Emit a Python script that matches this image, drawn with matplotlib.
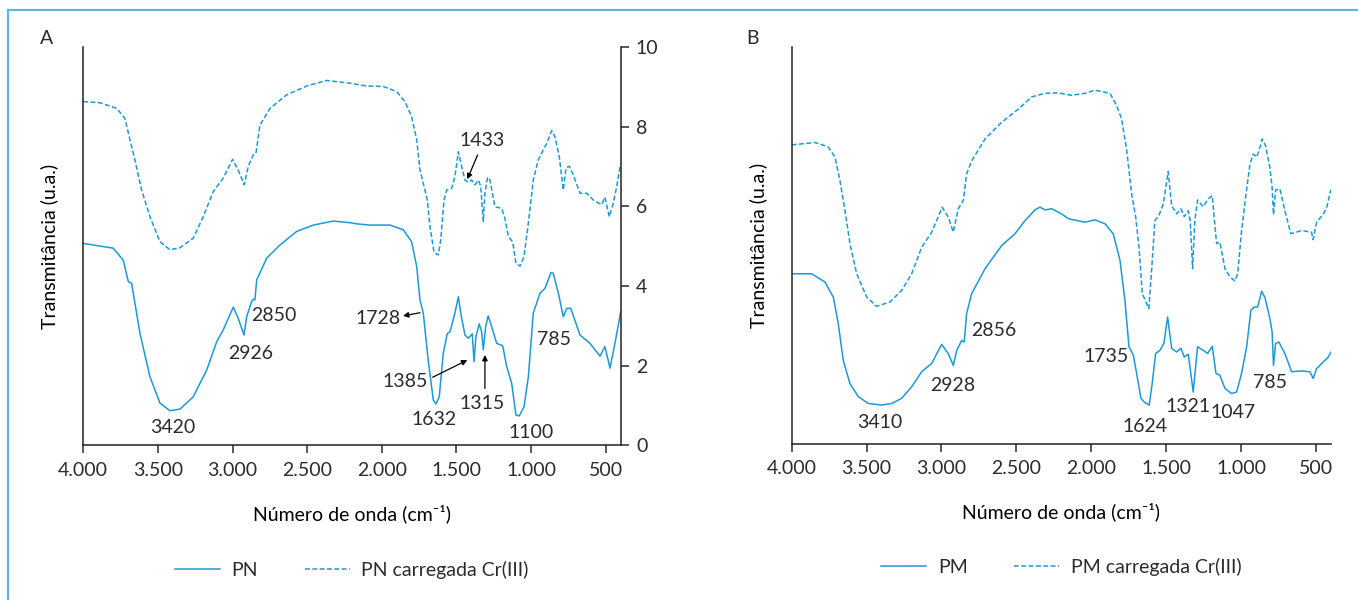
import numpy as np
import matplotlib
matplotlib.use('Agg')
import matplotlib.pyplot as plt
from matplotlib.ticker import FuncFormatter, FixedLocator

plt.rcParams['font.family'] = ['Lato', 'DejaVu Sans']
plt.rcParams['font.size'] = 14
plt.rcParams['text.color'] = '#2b2b2b'
plt.rcParams['xtick.color'] = '#2b2b2b'
plt.rcParams['ytick.color'] = '#2b2b2b'

# espectro PN (linha cheia)
pn_wn = [4000, 3799, 3732, 3698, 3676, 3620, 3553, 3486, 3419, 3352, 3263, 3173, 3106,
         3062, 2995, 2962, 2923, 2905, 2872, 2861, 2850, 2838, 2771, 2682, 2570, 2459,
         2325, 2213, 2168, 2079, 1945, 1856, 1800, 1766, 1744, 1722, 1689, 1655, 1637,
         1615, 1588, 1561, 1543, 1510, 1487, 1471, 1443, 1420, 1394, 1382, 1369, 1347,
         1331, 1320, 1304, 1287, 1264, 1230, 1190, 1163, 1130, 1101, 1079, 1047, 1018,
         985, 940, 907, 866, 851, 817, 784, 761, 734, 672, 605, 538, 505, 471, 438, 409, 400]
pn_t = [5.07, 4.95, 4.65, 4.11, 4.07, 2.81, 1.72, 1.06, 0.87, 0.91, 1.22, 1.89, 2.60,
        2.90, 3.47, 3.19, 2.77, 3.23, 3.61, 3.67, 3.65, 4.15, 4.70, 5.03, 5.37, 5.53,
        5.63, 5.59, 5.56, 5.53, 5.53, 5.41, 5.11, 4.49, 3.65, 3.32, 2.14, 1.14, 1.04,
        1.22, 2.31, 2.81, 2.85, 3.32, 3.73, 3.32, 2.77, 2.69, 2.80, 2.10, 2.73, 3.05,
        2.85, 2.40, 2.98, 3.25, 2.98, 2.56, 2.50, 1.98, 1.56, 0.76, 0.74, 0.97, 1.72,
        3.32, 3.82, 3.94, 4.34, 4.32, 3.82, 3.23, 3.44, 3.44, 2.77, 2.56, 2.24, 2.48,
        1.94, 2.56, 3.15, 3.35]

# espectro PN carregada Cr(III) (tracejado)
pncr_wn = [4000, 3888, 3776, 3721, 3687, 3654, 3609, 3553, 3486, 3419, 3352, 3263, 3196,
           3129, 3062, 2999, 2962, 2921, 2895, 2861, 2843, 2816, 2749, 2637, 2503, 2369,
           2258, 2213, 2101, 1990, 1900, 1845, 1800, 1766, 1744, 1717, 1695, 1677, 1650,
           1621, 1605, 1583, 1565, 1532, 1510, 1487, 1465, 1443, 1420, 1398, 1376, 1353,
           1337, 1320, 1309, 1291, 1275, 1242, 1197, 1175, 1152, 1123, 1101, 1074, 1047,
           1018, 985, 951, 918, 895, 862, 840, 811, 784, 766, 744, 717, 672, 627, 583,
           527, 505, 476, 449, 426, 409, 400]
pncr_t = [8.63, 8.60, 8.46, 8.21, 7.67, 7.17, 6.41, 5.74, 5.11, 4.91, 4.96, 5.20, 5.74,
          6.37, 6.71, 7.18, 6.91, 6.54, 7.00, 7.29, 7.33, 8.04, 8.46, 8.80, 9.02, 9.16,
          9.11, 9.09, 9.02, 9.01, 8.88, 8.63, 8.25, 7.67, 6.91, 6.50, 6.16, 5.49, 4.84,
          4.78, 5.16, 6.16, 6.41, 6.45, 6.75, 7.37, 7.00, 6.66, 6.60, 6.66, 6.54, 6.66,
          6.50, 5.62, 6.33, 6.73, 6.66, 5.99, 5.95, 5.70, 5.24, 5.11, 4.57, 4.50, 4.74,
          5.58, 6.66, 7.17, 7.42, 7.58, 7.90, 7.75, 7.25, 6.41, 6.96, 7.01, 6.79, 6.33,
          6.33, 6.16, 6.04, 6.23, 5.74, 6.08, 6.50, 6.87, 7.05]

# espectro PM (linha cheia)
pm_wn = [4000, 3866, 3778, 3722, 3689, 3656, 3611, 3555, 3489, 3399, 3332, 3266, 3199,
         3132, 3065, 2999, 2955, 2921, 2898, 2865, 2848, 2832, 2798, 2709, 2598, 2509,
         2442, 2376, 2342, 2309, 2264, 2198, 2153, 2042, 1975, 1908, 1853, 1808, 1775,
         1748, 1719, 1697, 1668, 1641, 1613, 1593, 1570, 1541, 1515, 1490, 1463, 1430,
         1401, 1379, 1352, 1319, 1290, 1252, 1223, 1192, 1167, 1141, 1107, 1063, 1029,
         996, 962, 934, 912, 889, 862, 840, 807, 792, 783, 769, 747, 707, 662, 595, 540,
         518, 495, 450, 417, 400]
pm_t = [4.28, 4.28, 4.07, 3.69, 3.02, 2.10, 1.51, 1.18, 1.01, 0.97, 1.01, 1.14, 1.43,
        1.81, 2.02, 2.50, 2.27, 1.97, 2.35, 2.60, 2.56, 3.28, 3.78, 4.41, 4.99, 5.29,
        5.62, 5.89, 5.96, 5.89, 5.92, 5.79, 5.67, 5.58, 5.64, 5.54, 5.29, 4.62, 3.61,
        2.44, 2.23, 1.77, 1.14, 1.03, 0.97, 1.51, 2.27, 2.35, 2.52, 3.19, 2.40, 2.31,
        2.40, 2.18, 2.25, 1.30, 2.44, 2.35, 2.27, 2.45, 1.77, 1.72, 1.39, 1.26, 1.30,
        1.77, 2.44, 3.36, 3.44, 3.44, 3.84, 3.68, 3.15, 2.81, 1.97, 2.52, 2.56, 2.27,
        1.81, 1.83, 1.81, 1.64, 1.89, 2.06, 2.18, 2.30]

# espectro PM carregada Cr(III) (tracejado)
pmcr_wn = [4000, 3844, 3756, 3711, 3678, 3644, 3611, 3566, 3499, 3433, 3344, 3266, 3199,
           3132, 3065, 2995, 2955, 2921, 2888, 2854, 2832, 2798, 2709, 2598, 2487, 2398,
           2309, 2220, 2131, 2042, 1975, 1875, 1830, 1797, 1764, 1730, 1703, 1681, 1659,
           1637, 1615, 1597, 1575, 1548, 1519, 1486, 1463, 1430, 1401, 1379, 1352, 1339,
           1323, 1308, 1290, 1252, 1219, 1192, 1163, 1141, 1107, 1074, 1041, 1022, 996,
           969, 940, 918, 896, 880, 858, 836, 807, 792, 783, 769, 740, 707, 667, 595, 529,
           518, 495, 450, 427, 400]
pmcr_t = [7.53, 7.59, 7.48, 7.22, 6.63, 5.87, 5.04, 4.28, 3.69, 3.46, 3.57, 3.86, 4.28,
          4.95, 5.33, 5.96, 5.71, 5.33, 5.92, 6.13, 6.80, 7.13, 7.68, 8.10, 8.43, 8.74,
          8.83, 8.84, 8.78, 8.83, 8.91, 8.83, 8.52, 8.18, 7.43, 6.29, 5.71, 4.95, 3.78,
          3.59, 3.40, 4.36, 5.62, 5.75, 6.04, 6.86, 6.00, 5.79, 5.92, 5.72, 5.87, 5.62,
          4.41, 5.62, 6.14, 5.97, 6.17, 6.25, 5.04, 5.08, 4.41, 4.20, 4.10, 4.28, 5.37,
          6.21, 7.05, 7.30, 7.22, 7.38, 7.68, 7.51, 6.96, 6.46, 5.77, 6.39, 6.42, 5.87,
          5.29, 5.37, 5.33, 5.14, 5.58, 5.79, 5.96, 6.40]

# rótulos das bandas: (texto, número de onda, transmitância)
labels_a = [('3420', 3402, 0.44), ('2926', 2876, 2.30), ('2850', 2722, 3.25),
            ('1728', 2022, 3.19), ('1433', 1325, 7.65), ('1385', 1845, 1.60),
            ('1315', 1327, 1.06), ('1632', 1650, 0.64), ('1100', 998, 0.32),
            ('785', 846, 2.65)]
labels_b = [('3410', 3413, 0.52), ('2928', 2928, 1.47), ('2856', 2654, 2.84),
            ('1735', 1902, 2.20), ('1624', 1639, 0.44), ('1321', 1352, 0.93),
            ('1047', 1052, 0.77), ('785', 808, 1.53)]

# setas do painel A: (início, ponta)
arrows_a = [((1744, 3.33), (1858, 3.25)),
            ((1358, 7.29), (1427, 6.68)),
            ((1659, 1.71), (1427, 2.14)),
            ((1309, 1.43), (1309, 2.27))]

blue = '#1a9ad6'
frame = '#5cb8e2'
dash = (0, (3.2, 1.6))

fig = plt.figure(figsize=(13.58, 6.0), dpi=100)

# moldura
fig.add_artist(plt.Line2D([0.006, 1.0], [0.983, 0.983], color=frame, lw=1.6))
fig.add_artist(plt.Line2D([0.006, 0.006], [0.0, 0.983], color=frame, lw=1.6))

axA = fig.add_axes([0.0613, 0.2577, 0.3957, 0.664])
axB = fig.add_axes([0.583, 0.2608, 0.397, 0.661])


def thousands(v, pos):
    return f'{int(v):,}'.replace(',', '.')


for ax in (axA, axB):
    ax.set_xlim(4000, 400)
    ax.set_ylim(0, 10)
    ax.xaxis.set_major_locator(FixedLocator([4000, 3500, 3000, 2500, 2000, 1500, 1000, 500]))
    ax.xaxis.set_major_formatter(FuncFormatter(thousands))
    ax.spines['top'].set_visible(False)
    for s in ('left', 'bottom', 'right'):
        ax.spines[s].set_linewidth(1.1)
        ax.spines[s].set_color('#222222')
    ax.tick_params(axis='x', direction='out', length=6, width=1.1, labelsize=14, pad=6)
    ax.set_xlabel('Número de onda (cm⁻¹)', fontsize=14, labelpad=18)
    ax.set_ylabel('Transmitância (u.a.)', fontsize=14, labelpad=18)

# painel A
axA.plot(pn_wn, pn_t, color=blue, lw=1.1, label='PN')
axA.plot(pncr_wn, pncr_t, color=blue, lw=1.1, ls=dash, label='PN carregada Cr(III)')
axA.yaxis.tick_right()
axA.yaxis.set_major_locator(FixedLocator([0, 2, 4, 6, 8, 10]))
axA.tick_params(axis='y', direction='out', length=6, width=1.1, labelsize=14, pad=5,
                left=False, labelleft=False)
axA.yaxis.set_label_position('left')
for txt, x, y in labels_a:
    axA.text(x, y, txt, ha='center', va='center', fontsize=14)
for tail, head in arrows_a:
    axA.annotate('', xy=head, xytext=tail,
                 arrowprops=dict(arrowstyle='-|>', color='black', lw=0.9,
                                 mutation_scale=8, shrinkA=0, shrinkB=0))
axA.text(-0.069, 1.0, 'A', transform=axA.transAxes, fontsize=14, ha='center', va='bottom')

# painel B
axB.plot(pm_wn, pm_t, color=blue, lw=1.1, label='PM')
axB.plot(pmcr_wn, pmcr_t, color=blue, lw=1.1, ls=dash, label='PM carregada Cr(III)')
axB.spines['right'].set_visible(False)
axB.tick_params(axis='y', left=False, labelleft=False)
for txt, x, y in labels_b:
    axB.text(x, y, txt, ha='center', va='center', fontsize=14)
axB.text(-0.073, 1.0, 'B', transform=axB.transAxes, fontsize=14, ha='center', va='bottom')

for ax in (axA, axB):
    ax.legend(loc='upper center', bbox_to_anchor=(0.5, -0.245), ncol=2, frameon=False,
              fontsize=14, handlelength=2.3, columnspacing=2.4, handletextpad=0.6)

fig.savefig('out.png', dpi=100)
